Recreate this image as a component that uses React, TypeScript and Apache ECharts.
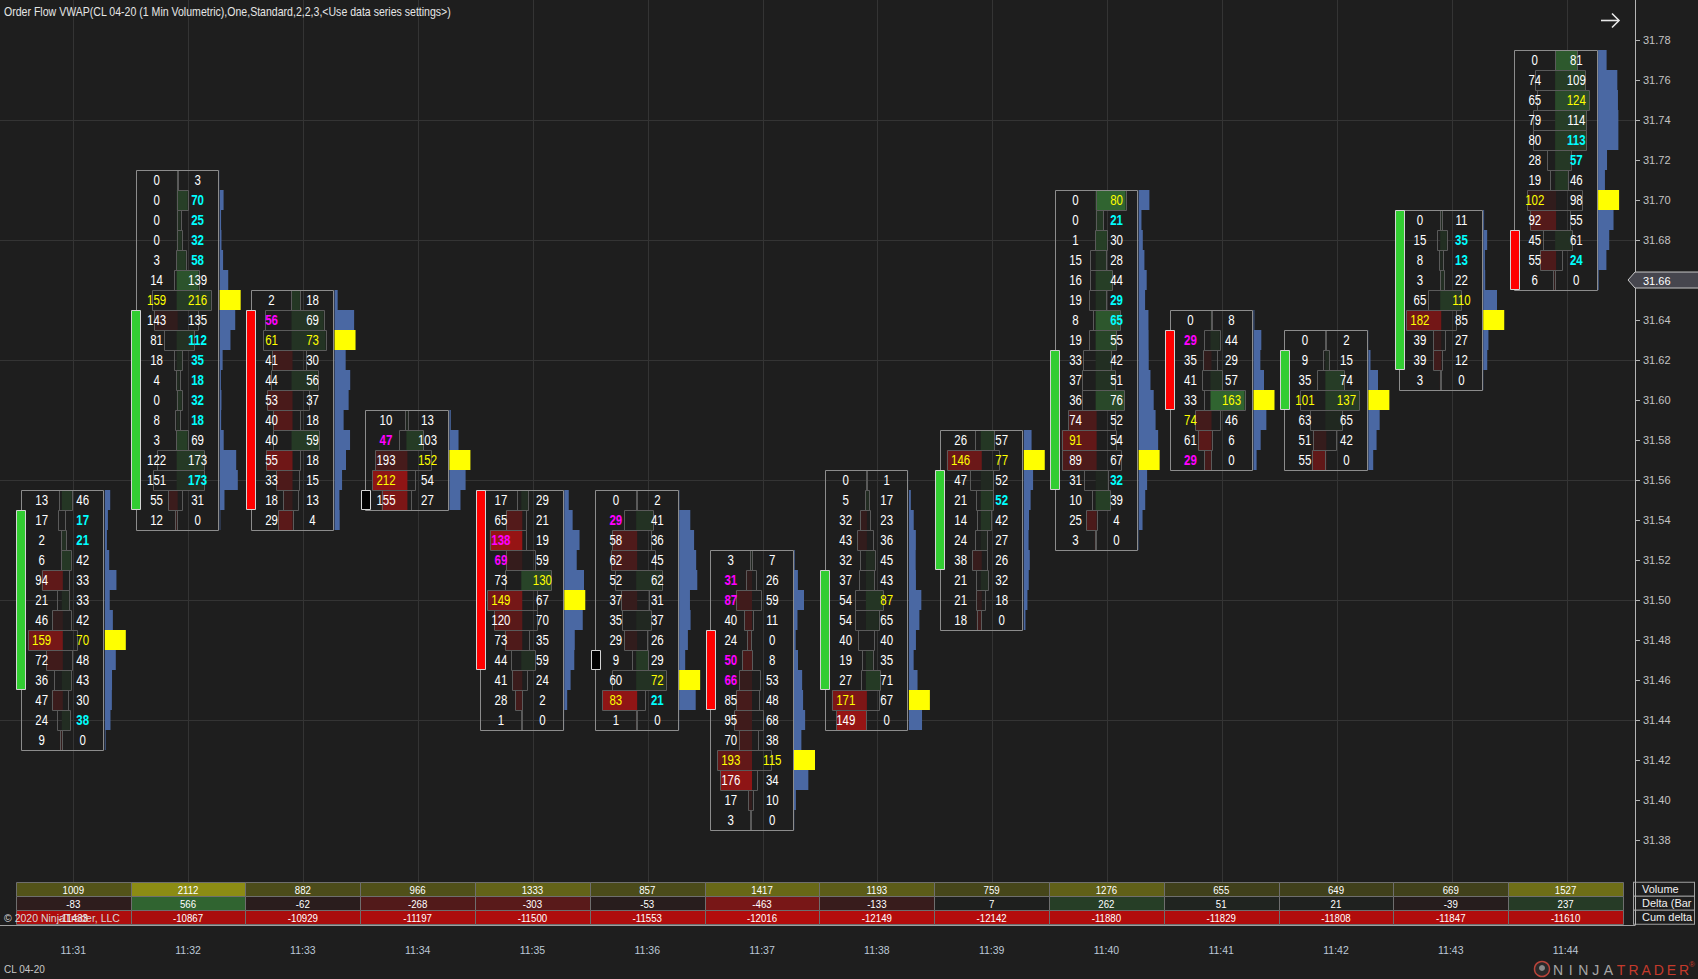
import React, { useEffect, useRef } from 'react';
import * as echarts from 'echarts';

// ---------------- data ----------------
const times = ['11:31', '11:32', '11:33', '11:34', '11:35', '11:36', '11:37', '11:38', '11:39', '11:40', '11:41', '11:42', '11:43', '11:44'];
// top price level of every bar (rows go down in 0.01 steps)
const highs = [31.55, 31.71, 31.65, 31.59, 31.55, 31.55, 31.52, 31.56, 31.58, 31.70, 31.64, 31.63, 31.69, 31.77];
const opens = [31.46, 31.55, 31.64, 31.55, 31.55, 31.47, 31.48, 31.46, 31.52, 31.56, 31.63, 31.60, 31.62, 31.68];
const closes = [31.54, 31.64, 31.55, 31.55, 31.47, 31.47, 31.45, 31.51, 31.56, 31.62, 31.60, 31.62, 31.69, 31.66];

const bid1131 = [13, 17, 2, 6, 94, 21, 46, 159, 72, 36, 47, 24, 9];
const ask1131 = [46, 17, 21, 42, 33, 33, 42, 70, 48, 43, 30, 38, 0];
const bid1132 = [0, 0, 0, 0, 3, 14, 159, 143, 81, 18, 4, 0, 8, 3, 122, 151, 55, 12];
const ask1132 = [3, 70, 25, 32, 58, 139, 216, 135, 112, 35, 18, 32, 18, 69, 173, 173, 31, 0];
const bid1133 = [2, 56, 61, 41, 44, 53, 40, 40, 55, 33, 18, 29];
const ask1133 = [18, 69, 73, 30, 56, 37, 18, 59, 18, 15, 13, 4];
const bid1134 = [10, 47, 193, 212, 155];
const ask1134 = [13, 103, 152, 54, 27];
const bid1135 = [17, 65, 138, 69, 73, 149, 120, 73, 44, 41, 28, 1];
const ask1135 = [29, 21, 19, 59, 130, 67, 70, 35, 59, 24, 2, 0];
const bid1136 = [0, 29, 58, 62, 52, 37, 35, 29, 9, 60, 83, 1];
const ask1136 = [2, 41, 36, 45, 62, 31, 37, 26, 29, 72, 21, 0];
const bid1137 = [3, 31, 87, 40, 24, 50, 66, 85, 95, 70, 193, 176, 17, 3];
const ask1137 = [7, 26, 59, 11, 0, 8, 53, 48, 68, 38, 115, 34, 10, 0];
const bid1138 = [0, 5, 32, 43, 32, 37, 54, 54, 40, 19, 27, 171, 149];
const ask1138 = [1, 17, 23, 36, 45, 43, 87, 65, 40, 35, 71, 67, 0];
const bid1139 = [26, 146, 47, 21, 14, 24, 38, 21, 21, 18];
const ask1139 = [57, 77, 52, 52, 42, 27, 26, 32, 18, 0];
const bid1140 = [0, 0, 1, 15, 16, 19, 8, 19, 33, 37, 36, 74, 91, 89, 31, 10, 25, 3];
const ask1140 = [80, 21, 30, 28, 44, 29, 65, 55, 42, 51, 76, 52, 54, 67, 32, 39, 4, 0];
const bid1141 = [0, 29, 35, 41, 33, 74, 61, 29];
const ask1141 = [8, 44, 29, 57, 163, 46, 6, 0];
const bid1142 = [0, 9, 35, 101, 63, 51, 55];
const ask1142 = [2, 15, 74, 137, 65, 42, 0];
const bid1143 = [0, 15, 8, 3, 65, 182, 39, 39, 3];
const ask1143 = [11, 35, 13, 22, 110, 85, 27, 12, 0];
const bid1144 = [0, 74, 65, 79, 80, 28, 19, 102, 92, 45, 55, 6];
const ask1144 = [81, 109, 124, 114, 113, 57, 46, 98, 55, 61, 24, 0];

const bids = [bid1131, bid1132, bid1133, bid1134, bid1135, bid1136, bid1137, bid1138, bid1139, bid1140, bid1141, bid1142, bid1143, bid1144];
const asks = [ask1131, ask1132, ask1133, ask1134, ask1135, ask1136, ask1137, ask1138, ask1139, ask1140, ask1141, ask1142, ask1143, ask1144];

const volumes = [1009, 2112, 882, 966, 1333, 857, 1417, 1193, 759, 1276, 655, 649, 669, 1527];
const deltas = [-83, 566, -62, -268, -303, -53, -463, -133, 7, 262, 51, 21, -39, 237];
const cumDeltas = [-11433, -10867, -10929, -11197, -11500, -11553, -12016, -12149, -12142, -11880, -11829, -11808, -11847, -11610];

const tableRows = ['Volume', 'Delta (Bar)', 'Cum delta'];
const gridPrices = [31.44, 31.5, 31.56, 31.62, 31.68, 31.74];
const TICK = 0.01;

// ---------------- layout / style ----------------
const W = 1698;
const H = 979;
const BAR_PX = 114.87;
const FIRST_X = 73.3;
const PLOT_W = 1635;
const PX_PER_PRICE = 2008;
const Y_TOP_PRICE_PX = 36.7 - 0.02 * PX_PER_PRICE; // y of 31.80
const X_MIN = -FIRST_X / BAR_PX;
const X_MAX = X_MIN + PLOT_W / BAR_PX;

const BGC = [30, 30, 30];
const RED = [150, 20, 20];
const GREEN = [48, 100, 48];
const FONT_UI = "'Liberation Sans', Arial, sans-serif";

function mix(a: number[], b: number[], t: number) {
  const k = Math.max(0, Math.min(1, t));
  return 'rgb(' + a.map((v, i) => Math.round(v + (b[i] - v) * k)).join(',') + ')';
}

function txt(x: number, y: number, text: string, fill: string, font: string, align = 'center', sx = 1) {
  return {
    type: 'text',
    x,
    y,
    scaleX: sx,
    style: { x: 0, y: 0, text, fill, font, align, verticalAlign: 'middle', textAlign: align, textVerticalAlign: 'middle' },
  };
}

function footprint(params: any, api: any) {
  const i = params.dataIndex;
  const bid = bids[i];
  const ask = asks[i];
  const n = bid.length;
  const rowH = api.size([0, TICK])[1];
  const xc = api.coord([i, highs[i]])[0];
  const priceAt = (k: number) => Math.round((highs[i] - k * TICK) * 100) / 100;
  const yOf = (p: number) => api.coord([i, p])[1];
  const maxCell = Math.max(...bid, ...ask);
  const maxBid = Math.max(...bid);
  const maxAsk = Math.max(...ask);
  const totals = bid.map((b, k) => b + ask[k]);
  const maxTot = Math.max(...totals);
  const poc = totals.indexOf(maxTot);
  const split = xc - 11.5;
  const boxL = Math.round(xc - 52.5) + 0.5;
  const boxR = Math.round(xc + 30) + 0.5;
  const fills: any[] = [];
  const outlines: any[] = [];
  const texts: any[] = [];
  const prof: any[] = [];
  for (let k = 0; k < n; k++) {
    const yc = yOf(priceAt(k));
    const y0 = Math.round(yc - rowH / 2);
    const y1 = Math.round(yc + rowH / 2);
    const bw = (bid[k] / maxCell) * 34;
    const aw = (ask[k] / maxCell) * 34;
    const d = ask[k] - bid[k];
    const t = 0.12 + (Math.abs(d) / maxCell) * 1.1;
    if (d < 0) {
      fills.push({ type: 'rect', shape: { x: split - bw, y: y0, width: bw + 1, height: y1 - y0 }, style: { fill: mix(BGC, RED, t) } });
    } else if (d > 0) {
      fills.push({ type: 'rect', shape: { x: split, y: y0, width: aw, height: y1 - y0 }, style: { fill: mix(BGC, GREEN, t) } });
    }
    const xa = Math.round(split - bw) + 0.5;
    const xb = Math.max(xa + 1, Math.round(split + aw) + 0.5);
    outlines.push({ type: 'rect', shape: { x: xa, y: y0 + 0.5, width: xb - xa, height: y1 - y0 }, style: { fill: 'none', stroke: '#5a5a5a', lineWidth: 1 } });
    const pw = k === poc ? 21 : (totals[k] / maxTot) * 21;
    prof.push({ type: 'rect', shape: { x: xc + 31.5, y: y0, width: pw, height: y1 - y0 }, style: { fill: k === poc ? '#ffff00' : '#4a68a3' } });
    const bidImb = k > 0 && bid[k] >= 3 * ask[k - 1] && bid[k] - ask[k - 1] >= 10;
    const askImb = k < n - 1 && ask[k] >= 3 * bid[k + 1] && ask[k] - bid[k + 1] >= 10;
    const bc = bid[k] === maxBid ? '#ffff00' : bidImb ? '#ff00ff' : '#ffffff';
    const ac = ask[k] === maxAsk ? '#ffff00' : askImb ? '#00ffff' : '#ffffff';
    const bf = (bid[k] !== maxBid && bidImb ? 'bold ' : '') + '14px ' + FONT_UI;
    const af = (ask[k] !== maxAsk && askImb ? 'bold ' : '') + '14px ' + FONT_UI;
    texts.push(txt((boxL + split) / 2, yc + 0.5, String(bid[k]), bc, bf, 'center', 0.82));
    texts.push(txt((split + boxR) / 2, yc + 0.5, String(ask[k]), ac, af, 'center', 0.82));
  }
  const top = Math.round(yOf(priceAt(0)) - rowH / 2) + 0.5;
  const bot = Math.round(yOf(priceAt(n - 1)) + rowH / 2) + 0.5;
  const box = { type: 'rect', shape: { x: boxL, y: top, width: boxR - boxL, height: bot - top }, style: { fill: 'none', stroke: '#8c8c8c', lineWidth: 1 } };
  const o = opens[i];
  const c = closes[i];
  const cT = Math.round(yOf(Math.max(o, c)) - rowH / 2) + 0.5;
  const cB = Math.round(yOf(Math.min(o, c)) + rowH / 2) - 0.5;
  const candle = {
    type: 'rect',
    shape: { x: Math.round(xc - 57) + 0.5, y: cT, width: 9, height: cB - cT },
    style: { fill: c > o ? '#32cd32' : c < o ? '#ff0000' : '#000000', stroke: '#d4d4d4', lineWidth: 1 },
  };
  return { type: 'group', children: [...fills, ...outlines, box, ...prof, candle, ...texts] };
}

function hGrid(params: any, api: any) {
  const cs = params.coordSys;
  const y = Math.round(api.coord([0, api.value(1)])[1]) + 0.5;
  return { type: 'line', shape: { x1: cs.x, y1: y, x2: cs.x + cs.width, y2: y }, style: { stroke: '#343434', lineWidth: 1 } };
}

function vGrid(params: any, api: any) {
  const x = Math.round(api.coord([api.value(0), 31.5])[0]) + 0.5;
  return { type: 'line', shape: { x1: x, y1: 0, x2: x, y2: 882 }, style: { stroke: '#343434', lineWidth: 1 } };
}

function lastPrice(params: any, api: any) {
  const cs = params.coordSys;
  const y = api.coord([api.value(0), api.value(1)])[1];
  const x0 = cs.x + cs.width;
  return {
    type: 'group',
    children: [
      {
        type: 'polygon',
        shape: { points: [[x0 - 7, y], [x0, y - 8], [x0 + 66, y - 8], [x0 + 66, y + 8], [x0, y + 8]] },
        style: { fill: '#46464e', stroke: '#c8c8c8', lineWidth: 1 },
      },
      txt(x0 + 8, y + 0.5, api.value(1).toFixed(2), '#ffffff', '11px ' + FONT_UI, 'left'),
    ],
  };
}

const maxVol = Math.max(...volumes);
const maxAbsDelta = Math.max(...deltas.map((d) => Math.abs(d)));
const maxAbsCum = Math.max(...cumDeltas.map((d) => Math.abs(d)));

function cellColor(r: number, v: number) {
  if (r === 0) return mix(BGC, [140, 140, 20], v / maxVol);
  if (r === 1) return mix(BGC, v < 0 ? [140, 22, 22] : [48, 100, 48], Math.abs(v) / maxAbsDelta);
  return mix(BGC, [180, 12, 12], 0.3 + 0.7 * (Math.abs(v) / maxAbsCum));
}

function tableCell(params: any, api: any) {
  const i = api.value(0);
  const r = api.value(1);
  const v = api.value(2);
  const [cx, cy] = api.coord([i, r]);
  const [w, h] = api.size([1, 1]);
  const x0 = Math.round(cx - w / 2) + 0.5;
  const x1 = Math.round(cx + w / 2) + 0.5;
  const y0 = Math.round(cy - h / 2) + 0.5;
  const y1 = Math.round(cy + h / 2) + 0.5;
  return {
    type: 'group',
    children: [
      { type: 'rect', shape: { x: x0, y: y0, width: x1 - x0, height: y1 - y0 }, style: { fill: cellColor(r, v), stroke: '#6e6e6e', lineWidth: 1 } },
      txt(cx, cy + 0.5, String(v), '#ffffff', '11px ' + FONT_UI, 'center', 0.88),
    ],
  };
}

const tableData: number[][] = [];
times.forEach((_, i) => {
  tableData.push([i, 0, volumes[i]]);
  tableData.push([i, 1, deltas[i]]);
  tableData.push([i, 2, cumDeltas[i]]);
});

const logoLetters = 'NINJATRADER'.split('');

const option: any = {
  animation: false,
  backgroundColor: '#1e1e1e',
  grid: [
    { left: 0, width: PLOT_W, top: Y_TOP_PRICE_PX, height: 0.44 * PX_PER_PRICE, containLabel: false },
    { left: FIRST_X - BAR_PX / 2, width: BAR_PX * times.length, top: 882.3, height: 42, containLabel: false },
  ],
  xAxis: [
    { type: 'value', gridIndex: 0, min: X_MIN, max: X_MAX, show: false, axisLine: { onZero: false } },
    {
      type: 'category',
      gridIndex: 1,
      data: times,
      axisLine: { show: false },
      axisTick: { show: false },
      splitLine: { show: false },
      axisLabel: { color: '#bcc8d6', fontSize: 10.5, fontFamily: FONT_UI, margin: 20, interval: 0 },
    },
  ],
  yAxis: [
    {
      type: 'value',
      gridIndex: 0,
      position: 'right',
      min: 31.36,
      max: 31.8,
      interval: 0.02,
      splitLine: { show: false },
      axisLine: { show: true, onZero: false, lineStyle: { color: '#b4b4b4', width: 1 } },
      axisTick: { show: true, length: 5, lineStyle: { color: '#b4b4b4' } },
      axisLabel: {
        color: '#c4c4c4',
        fontSize: 11,
        fontFamily: FONT_UI,
        margin: 8,
        showMinLabel: false,
        showMaxLabel: false,
        formatter: (v: number) => v.toFixed(2),
      },
    },
    {
      type: 'category',
      gridIndex: 1,
      data: tableRows,
      inverse: true,
      position: 'right',
      axisLine: { show: false, onZero: false },
      axisTick: { show: false },
      splitLine: { show: false },
      axisLabel: {
        interval: 0,
        hideOverlap: false,
        color: '#f0f0f0',
        fontSize: 11,
        fontFamily: FONT_UI,
        align: 'left',
        margin: 11,
        backgroundColor: '#1e1e1e',
        borderColor: '#a0a0a0',
        borderWidth: 1,
        padding: [1, 0, 0, 8],
        width: 52,
        height: 12,
        lineHeight: 12,
        overflow: 'truncate',
        ellipsis: '',
      },
    },
  ],
  series: [
    { type: 'custom', name: 'hgrid', xAxisIndex: 0, yAxisIndex: 0, z: 1, silent: true, data: gridPrices.map((p) => [0, p]), renderItem: hGrid },
    { type: 'custom', name: 'vgrid', xAxisIndex: 0, yAxisIndex: 0, z: 1, silent: true, data: times.map((_, i) => [i, 31.5]), renderItem: vGrid },
    { type: 'custom', name: 'footprint', xAxisIndex: 0, yAxisIndex: 0, z: 3, data: times.map((_, i) => [i, highs[i]]), renderItem: footprint },
    { type: 'custom', name: 'last', xAxisIndex: 0, yAxisIndex: 0, z: 5, data: [[times.length - 1, closes[closes.length - 1]]], renderItem: lastPrice },
    { type: 'custom', name: 'table', xAxisIndex: 1, yAxisIndex: 1, z: 4, data: tableData, renderItem: tableCell },
  ],
  graphic: [
    {
      type: 'text',
      x: 4,
      y: 12,
      z: 10,
      scaleX: 0.88,
      style: {
        x: 0,
        y: 0,
        text: 'Order Flow VWAP(CL 04-20 (1 Min Volumetric),One,Standard,2,2,3,<Use data series settings>)',
        fill: '#e6e6e6',
        font: '12px ' + FONT_UI,
        textAlign: 'left',
        textVerticalAlign: 'middle',
      },
    },
    { type: 'line', z: 10, shape: { x1: 1601, y1: 20.5, x2: 1619, y2: 20.5 }, style: { stroke: '#e8e8e8', lineWidth: 1.6 } },
    { type: 'polyline', z: 10, shape: { points: [[1612, 13.5], [1619, 20.5], [1612, 27.5]] }, style: { stroke: '#e8e8e8', lineWidth: 1.6, fill: 'none' } },
    { type: 'line', z: 10, shape: { x1: 1635.5, y1: 878, x2: 1635.5, y2: 925 }, style: { stroke: '#b4b4b4', lineWidth: 1 } },
    { type: 'line', z: 10, shape: { x1: 0, y1: 925.5, x2: 1635.5, y2: 925.5 }, style: { stroke: '#a0a0a0', lineWidth: 1 } },
    {
      type: 'text',
      x: 4,
      y: 918,
      z: 12,
      style: { text: '\u00a9 2020 NinjaTrader, LLC', fill: '#d8d8d8', font: '10.5px ' + FONT_UI, textAlign: 'left', textVerticalAlign: 'middle' },
    },
    {
      type: 'text',
      x: 4,
      y: 969,
      z: 10,
      style: { text: 'CL 04-20', fill: '#c8c8c8', font: '10px ' + FONT_UI, textAlign: 'left', textVerticalAlign: 'middle' },
    },
    { type: 'circle', z: 10, shape: { cx: 1542, cy: 969, r: 7.5 }, style: { fill: '#2a2a2a', stroke: '#b8443a', lineWidth: 1.5 } },
    { type: 'circle', z: 10, shape: { cx: 1542, cy: 968, r: 3 }, style: { fill: '#8a8a8a' } },
    ...logoLetters.map((ch, k) => ({
      type: 'text',
      x: 1558 + k * 12.6,
      y: 970,
      z: 10,
      style: {
        text: ch,
        fill: k < 5 ? '#a6a6a6' : '#c43a2c',
        font: '14px ' + FONT_UI,
        textAlign: 'center',
        textVerticalAlign: 'middle',
      },
    })),
    {
      type: 'text',
      x: 1692,
      y: 964,
      z: 10,
      style: { text: '\u00ae', fill: '#c43a2c', font: '8px ' + FONT_UI, textAlign: 'center', textVerticalAlign: 'middle' },
    },
  ],
};

export default function App() {
  const ref = useRef<HTMLDivElement>(null);
  useEffect(() => {
    if (!ref.current) return;
    const chart = echarts.init(ref.current, undefined, { renderer: 'svg' });
    chart.setOption(option);
    return () => chart.dispose();
  }, []);
  return <div ref={ref} style={{ position: 'fixed', left: 0, top: 0, width: W, height: H, background: '#1e1e1e' }} />;
}
